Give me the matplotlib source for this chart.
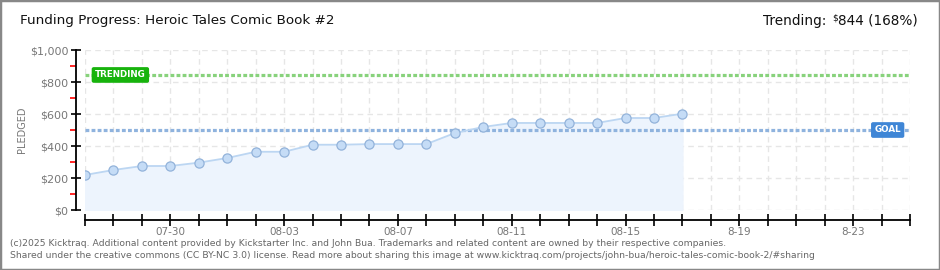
import matplotlib
matplotlib.use("Agg")
import matplotlib.pyplot as plt
import matplotlib.dates as mdates
import matplotlib.patches as patches
import matplotlib.transforms as mtrans
from matplotlib.ticker import FixedLocator
import datetime as dt

# ---- data ----
dates = ["2024-07-27", "2024-07-28", "2024-07-29", "2024-07-30", "2024-07-31",
         "2024-08-01", "2024-08-02", "2024-08-03", "2024-08-04", "2024-08-05",
         "2024-08-06", "2024-08-07", "2024-08-08", "2024-08-09", "2024-08-10",
         "2024-08-11", "2024-08-12", "2024-08-13", "2024-08-14", "2024-08-15",
         "2024-08-16", "2024-08-17"]
pledged = [219, 250, 275, 275, 296, 325, 364, 364, 408, 408, 412, 412, 412,
           481, 519, 544, 544, 544, 544, 575, 575, 602]
goal = 500
trending = 844
trending_pct = 168
x_start = "2024-07-27"
x_end = "2024-08-25"
tick_label_dates = ["2024-07-30", "2024-08-03", "2024-08-07", "2024-08-11",
                    "2024-08-15", "2024-08-19", "2024-08-23"]
tick_labels = ["07-30", "08-03", "08-07", "08-11", "08-15", "8-19", "8-23"]
y_ticks = [0, 200, 400, 600, 800, 1000]
y_labels = ["$0", "$200", "$400", "$600", "$800", "$1,000"]
title = "Funding Progress: Heroic Tales Comic Book #2"
footer1 = ("(c)2025 Kicktraq. Additional content provided by Kickstarter Inc. and John Bua. "
           "Trademarks and related content are owned by their respective companies.")
footer2 = ("Shared under the creative commons (CC BY-NC 3.0) license. Read more about sharing "
           "this image at www.kicktraq.com/projects/john-bua/heroic-tales-comic-book-2/#sharing")

to_d = lambda s: mdates.date2num(dt.datetime.strptime(s, "%Y-%m-%d"))
xd = [to_d(s) for s in dates]

W, H = 940, 270
plt.rcParams['font.family'] = ['DejaVu Sans']
fig = plt.figure(figsize=(W / 100, H / 100), dpi=100)

ax = fig.add_axes([85 / W, 1 - 210 / H, (910 - 85) / W, 160 / H])
ax.set_xlim(to_d(x_start), to_d(x_end))
ax.set_ylim(0, 1000)

# grid
day_ticks = [to_d(x_start) + i for i in range(int(to_d(x_end) - to_d(x_start)) + 1)]
for d in day_ticks:
    ax.axvline(d, color="#e6e6e6", lw=1, ls=(0, (4, 3)), zorder=0)
for v in y_ticks:
    ax.axhline(v, color="#e6e6e6", lw=1, ls=(0, (4, 3)), zorder=0)

# fill and line
ax.fill_between(xd, pledged, 0, color="#edf4fd", zorder=1)
ax.plot(xd, pledged, color="#bcd6f2", lw=1.3, zorder=3)
ax.plot(xd, pledged, ls="none", marker="o", ms=6.6, mfc="#c5dcf6",
        mec="#93b3da", mew=0.9, zorder=4)

# goal & trending
ax.axhline(goal, color="#8fb3de", lw=2.3, ls=(0, (1.2, 0.7)), zorder=2)
ax.axhline(trending, color="#88d27c", lw=2.3, ls=(0, (1.2, 0.7)), zorder=2)

blend = mtrans.blended_transform_factory(ax.transAxes, ax.transData)
ax.text((95 - 85) / 825, trending, "TRENDING", transform=blend, ha="left", va="center",
        color="white", fontsize=6.3, fontweight="bold", zorder=6,
        bbox=dict(boxstyle="round,pad=0.3,rounding_size=0.15", fc="#17b30c", ec="#17b30c"))
ax.text((901 - 85) / 825, goal, "GOAL", transform=blend, ha="right", va="center",
        color="white", fontsize=6.3, fontweight="bold", zorder=6,
        bbox=dict(boxstyle="round,pad=0.3,rounding_size=0.15", fc="#3f86d6", ec="#3f86d6"))

# spines
for s in ["top", "right"]:
    ax.spines[s].set_visible(False)
ax.spines["left"].set_position(("outward", 6.5))
ax.spines["bottom"].set_position(("outward", 7.0))
ax.spines["left"].set_bounds(0, 1000)
ax.spines["bottom"].set_bounds(to_d(x_start), to_d(x_end))
ax.spines["left"].set_linewidth(1.3)
ax.spines["bottom"].set_linewidth(1.3)

ax.yaxis.set_major_locator(FixedLocator(y_ticks))
ax.set_yticklabels(y_labels)
ax.yaxis.set_minor_locator(FixedLocator([100, 300, 500, 700, 900]))
ax.tick_params(axis="y", which="major", direction="inout", length=7, width=1.2,
               color="black", labelcolor="#777777", labelsize=8, pad=2)
ax.tick_params(axis="y", which="minor", direction="out", length=4, width=1.2, color="red")

ax.xaxis.set_major_locator(FixedLocator(day_ticks))
lab_map = {to_d(d): l for d, l in zip(tick_label_dates, tick_labels)}
ax.set_xticklabels([lab_map.get(d, "") for d in day_ticks])
ax.tick_params(axis="x", which="major", direction="inout", length=8, width=1.2,
               color="black", labelcolor="#777777", labelsize=7.5, pad=1)

ax.set_ylabel("PLEDGED", color="#777777", fontsize=7)
ax.yaxis.set_label_coords(-(85 - 27) / 825, 0.5)

# title texts
fig.text(20 / W, 1 - 21 / H, title, ha="left", va="center", fontsize=9.7, color="#111111")
t_val = fig.text(918 / W, 1 - 21 / H, f"{trending} ({trending_pct}%)", ha="right",
                 va="center", fontsize=9.8, color="#111111")
ax.annotate("$", xy=(0, 0.72), xycoords=t_val, xytext=(-0.5, 0),
            textcoords="offset points", ha="right", va="center",
            fontsize=6.5, color="#111111", annotation_clip=False)
ax.annotate("Trending:", xy=(0, 0.5), xycoords=t_val, xytext=(-8.5, 0),
            textcoords="offset points", ha="right", va="center",
            fontsize=9.8, color="#111111", annotation_clip=False)

fig.text(10 / W, 1 - 243 / H, footer1, ha="left", va="center", fontsize=6.65, color="#666666")
fig.text(10 / W, 1 - 255 / H, footer2, ha="left", va="center", fontsize=6.7, color="#666666")

fig.patches.append(patches.Rectangle((0, 0), 1, 1, transform=fig.transFigure, fill=False,
                                     ec="#888888", lw=2.5))

fig.savefig("out.png", dpi=100)
